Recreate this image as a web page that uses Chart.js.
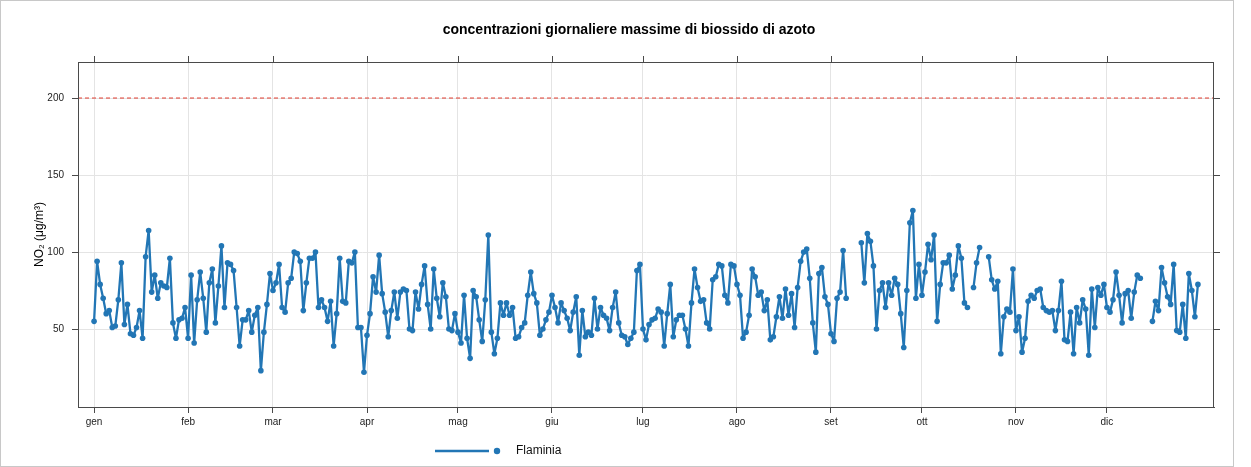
<!DOCTYPE html>
<html>
<head>
<meta charset="utf-8">
<script src="https://cdn.jsdelivr.net/npm/chart.js@4/dist/chart.umd.min.js"></script>
<style>
  html, body { margin: 0; padding: 0; background: #fff; }
  #wrap { position: relative; width: 1251px; height: 467px; }
  #frame { position: absolute; left: 0; top: 0; width: 1234px; height: 467px; box-sizing: border-box; border: 1px solid #c8c8c8; }
  canvas { position: absolute; left: 0; top: 0; }
</style>
</head>
<body>
<div id="wrap"><div id="frame"></div><canvas id="c" width="1251" height="467"></canvas></div>
<script>
// Month tick labels and the day-of-year each month starts on
const monthLabels = ['gen', 'feb', 'mar', 'apr', 'mag', 'giu', 'lug', 'ago', 'set', 'ott', 'nov', 'dic'];
const monthStartDay = [0, 31, 59, 90, 120, 151, 181, 212, 243, 273, 304, 334];

// Daily maximum NO2 (µg/m³) at Flaminia, one array per month (null = no data)
const gen = [55, 94, 79, 70, 60, 62, 51, 52, 69, 93, 53, 66, 47, 46, 51, 62, 44, 97, 114, 74, 85, 70, 80, 78, 77, 96, 54, 44, 56, 57, 64];
const feb = [44, 85, 41, 69, 87, 70, 48, 80, 89, 54, 78, 104, 64, 93, 92, 88, 64, 39, 56, 56, 62, 48, 59, 64, 23, 48, 66, 86];
const mar = [75, 80, 92, 64, 61, 80, 83, 100, 99, 94, 62, 80, 96, 96, 100, 64, 69, 64, 55, 68, 39, 60, 96, 68, 67, 94, 93, 100, 51, 51, 22];
const apr = [46, 60, 84, 74, 98, 73, 61, 45, 62, 74, 57, 74, 76, 75, 50, 49, 74, 63, 79, 91, 66, 50, 89, 70, 58, 80, 71, 50, 49, 60];
const mag = [48, 41, 72, 44, 31, 75, 71, 56, 42, 69, 111, 48, 34, 44, 67, 59, 67, 59, 64, 44, 45, 51, 54, 72, 87, 73, 67, 46, 50, 56, 61];
const giu = [72, 64, 54, 67, 62, 57, 49, 61, 71, 33, 62, 45, 48, 46, 70, 50, 64, 59, 57, 49, 64, 74, 54, 46, 45, 40, 44, 48, 88, 92];
const lug = [50, 43, 53, 56, 57, 63, 61, 39, 60, 79, 45, 56, 59, 59, 50, 39, 67, 89, 77, 68, 69, 54, 50, 82, 84, 92, 91, 72, 67, 92, 91];
const ago = [79, 72, 44, 48, 59, 89, 84, 72, 74, 62, 69, 43, 45, 58, 71, 57, 76, 59, 73, 51, 77, 94, 100, 102, 83, 54, 35, 86, 90, 71, 66];
const set = [47, 42, 70, 74, 101, 70, null, null, null, null, 106, 80, 112, 107, 91, 50, 75, 80, 64, 80, 72, 83, 79, 60, 38, 75, 119, 127, 70, 92];
const ott = [72, 87, 105, 95, 111, 55, 79, 93, 93, 98, 76, 85, 104, 96, 67, 64, null, 77, 93, 103, null, null, 97, 82, 76, 81, 34, 58, 63, 61, 89];
const nov = [49, 58, 35, 44, 68, 72, 70, 75, 76, 64, 62, 61, 62, 49, 62, 81, 43, 42, 61, 34, 64, 54, 69, 63, 33, 76, 51, 77, 72, 79];
const dic = [64, 61, 69, 87, 72, 54, 73, 75, 57, 74, 85, 83, null, null, null, 55, 68, 62, 90, 80, 71, 66, 92, 49, 48, 66, 44, 86, 75, 58, 79];

// Hourly limit value and y-axis tick values
const limitValue = 200;
const yTicks = [50, 100, 150, 200];

const X_MIN = -5.3, X_MAX = 369.3;
const Y_MIN = -0.6, Y_MAX = 223.4;
const LINE_BLUE = '#2276b5';
const AXIS_GREY = '#4a4a4a';
const FONT = "'Liberation Sans', Arial, sans-serif";

const daily = [].concat(gen, feb, mar, apr, mag, giu, lug, ago, set, ott, nov, dic);
const points = daily.map((v, i) => ({ x: i, y: v }));

// Box, top/right tick marks, title, axis title and key in the lattice style
const decorations = {
  id: 'decorations',
  afterDraw(chart) {
    const { ctx, chartArea: a, scales } = chart;
    ctx.save();
    ctx.strokeStyle = AXIS_GREY;
    ctx.lineWidth = 1;
    ctx.strokeRect(Math.round(a.left) + 0.5, Math.round(a.top) + 0.5,
                   Math.round(a.right - a.left) - 1, Math.round(a.bottom - a.top));
    ctx.beginPath();
    monthStartDay.forEach(d => {
      const x = Math.round(scales.x.getPixelForValue(d)) + 0.5;
      ctx.moveTo(x, a.top - 6); ctx.lineTo(x, a.top);
    });
    yTicks.forEach(v => {
      const y = Math.round(scales.y.getPixelForValue(v)) + 0.5;
      ctx.moveTo(a.right, y); ctx.lineTo(a.right + 6, y);
    });
    ctx.stroke();

    // title
    ctx.fillStyle = '#000';
    ctx.font = 'bold 14px ' + FONT;
    ctx.textAlign = 'center';
    ctx.textBaseline = 'middle';
    ctx.fillText('concentrazioni giornaliere massime di biossido di azoto', 629, 30);

    // y-axis title
    ctx.save();
    ctx.translate(40, (a.top + a.bottom) / 2);
    ctx.rotate(-Math.PI / 2);
    ctx.font = '12px ' + FONT;
    ctx.fillText('NO\u2082 (\u03bcg/m\u00b3)', 0, 0);
    ctx.restore();

    // key
    const ky = 451;
    ctx.strokeStyle = LINE_BLUE;
    ctx.lineWidth = 2.5;
    ctx.beginPath(); ctx.moveTo(435, ky); ctx.lineTo(489, ky); ctx.stroke();
    ctx.fillStyle = LINE_BLUE;
    ctx.beginPath(); ctx.arc(497, ky, 3.2, 0, Math.PI * 2); ctx.fill();
    ctx.fillStyle = '#111';
    ctx.font = '12px ' + FONT;
    ctx.textAlign = 'left';
    ctx.fillText('Flaminia', 516, ky);
    ctx.restore();
  }
};

new Chart(document.getElementById('c'), {
  type: 'line',
  data: {
    datasets: [
      {
        label: 'limite',
        data: [{ x: X_MIN, y: limitValue }, { x: X_MAX, y: limitValue }],
        borderColor: '#e03a2e',
        borderWidth: 1,
        borderDash: [4, 3],
        pointRadius: 0,
        order: 2
      },
      {
        label: 'Flaminia',
        data: points,
        borderColor: LINE_BLUE,
        backgroundColor: LINE_BLUE,
        borderWidth: 2.3,
        borderJoinStyle: 'round',
        borderCapStyle: 'round',
        pointRadius: 2.8,
        pointBorderWidth: 0,
        pointBackgroundColor: LINE_BLUE,
        tension: 0,
        spanGaps: false,
        order: 1
      }
    ]
  },
  options: {
    responsive: false,
    animation: false,
    devicePixelRatio: 1,
    layout: { padding: { top: 62, right: 37, left: 0, bottom: 0 } },
    plugins: { legend: { display: false }, tooltip: { enabled: false }, title: { display: false } },
    scales: {
      x: {
        type: 'linear',
        min: X_MIN,
        max: X_MAX,
        afterFit(s) { s.height = 60; },
        afterBuildTicks(s) { s.ticks = monthStartDay.map(v => ({ value: v })); },
        ticks: {
          callback: v => monthLabels[monthStartDay.indexOf(v)],
          font: { size: 10, family: FONT },
          color: '#222',
          padding: 3,
          maxRotation: 0,
          autoSkip: false
        },
        grid: { color: '#e4e4e4', lineWidth: 1, drawTicks: true, tickLength: 6, tickColor: AXIS_GREY },
        border: { display: true, color: AXIS_GREY, width: 1 }
      },
      y: {
        min: Y_MIN,
        max: Y_MAX,
        afterFit(s) { s.width = 78; },
        afterBuildTicks(s) { s.ticks = yTicks.map(v => ({ value: v })); },
        ticks: { font: { size: 10, family: FONT }, color: '#222', padding: 8 },
        grid: { color: '#e4e4e4', lineWidth: 1, drawTicks: true, tickLength: 6, tickColor: AXIS_GREY },
        border: { display: true, color: AXIS_GREY, width: 1 }
      }
    }
  },
  plugins: [decorations]
});
</script>
</body>
</html>
